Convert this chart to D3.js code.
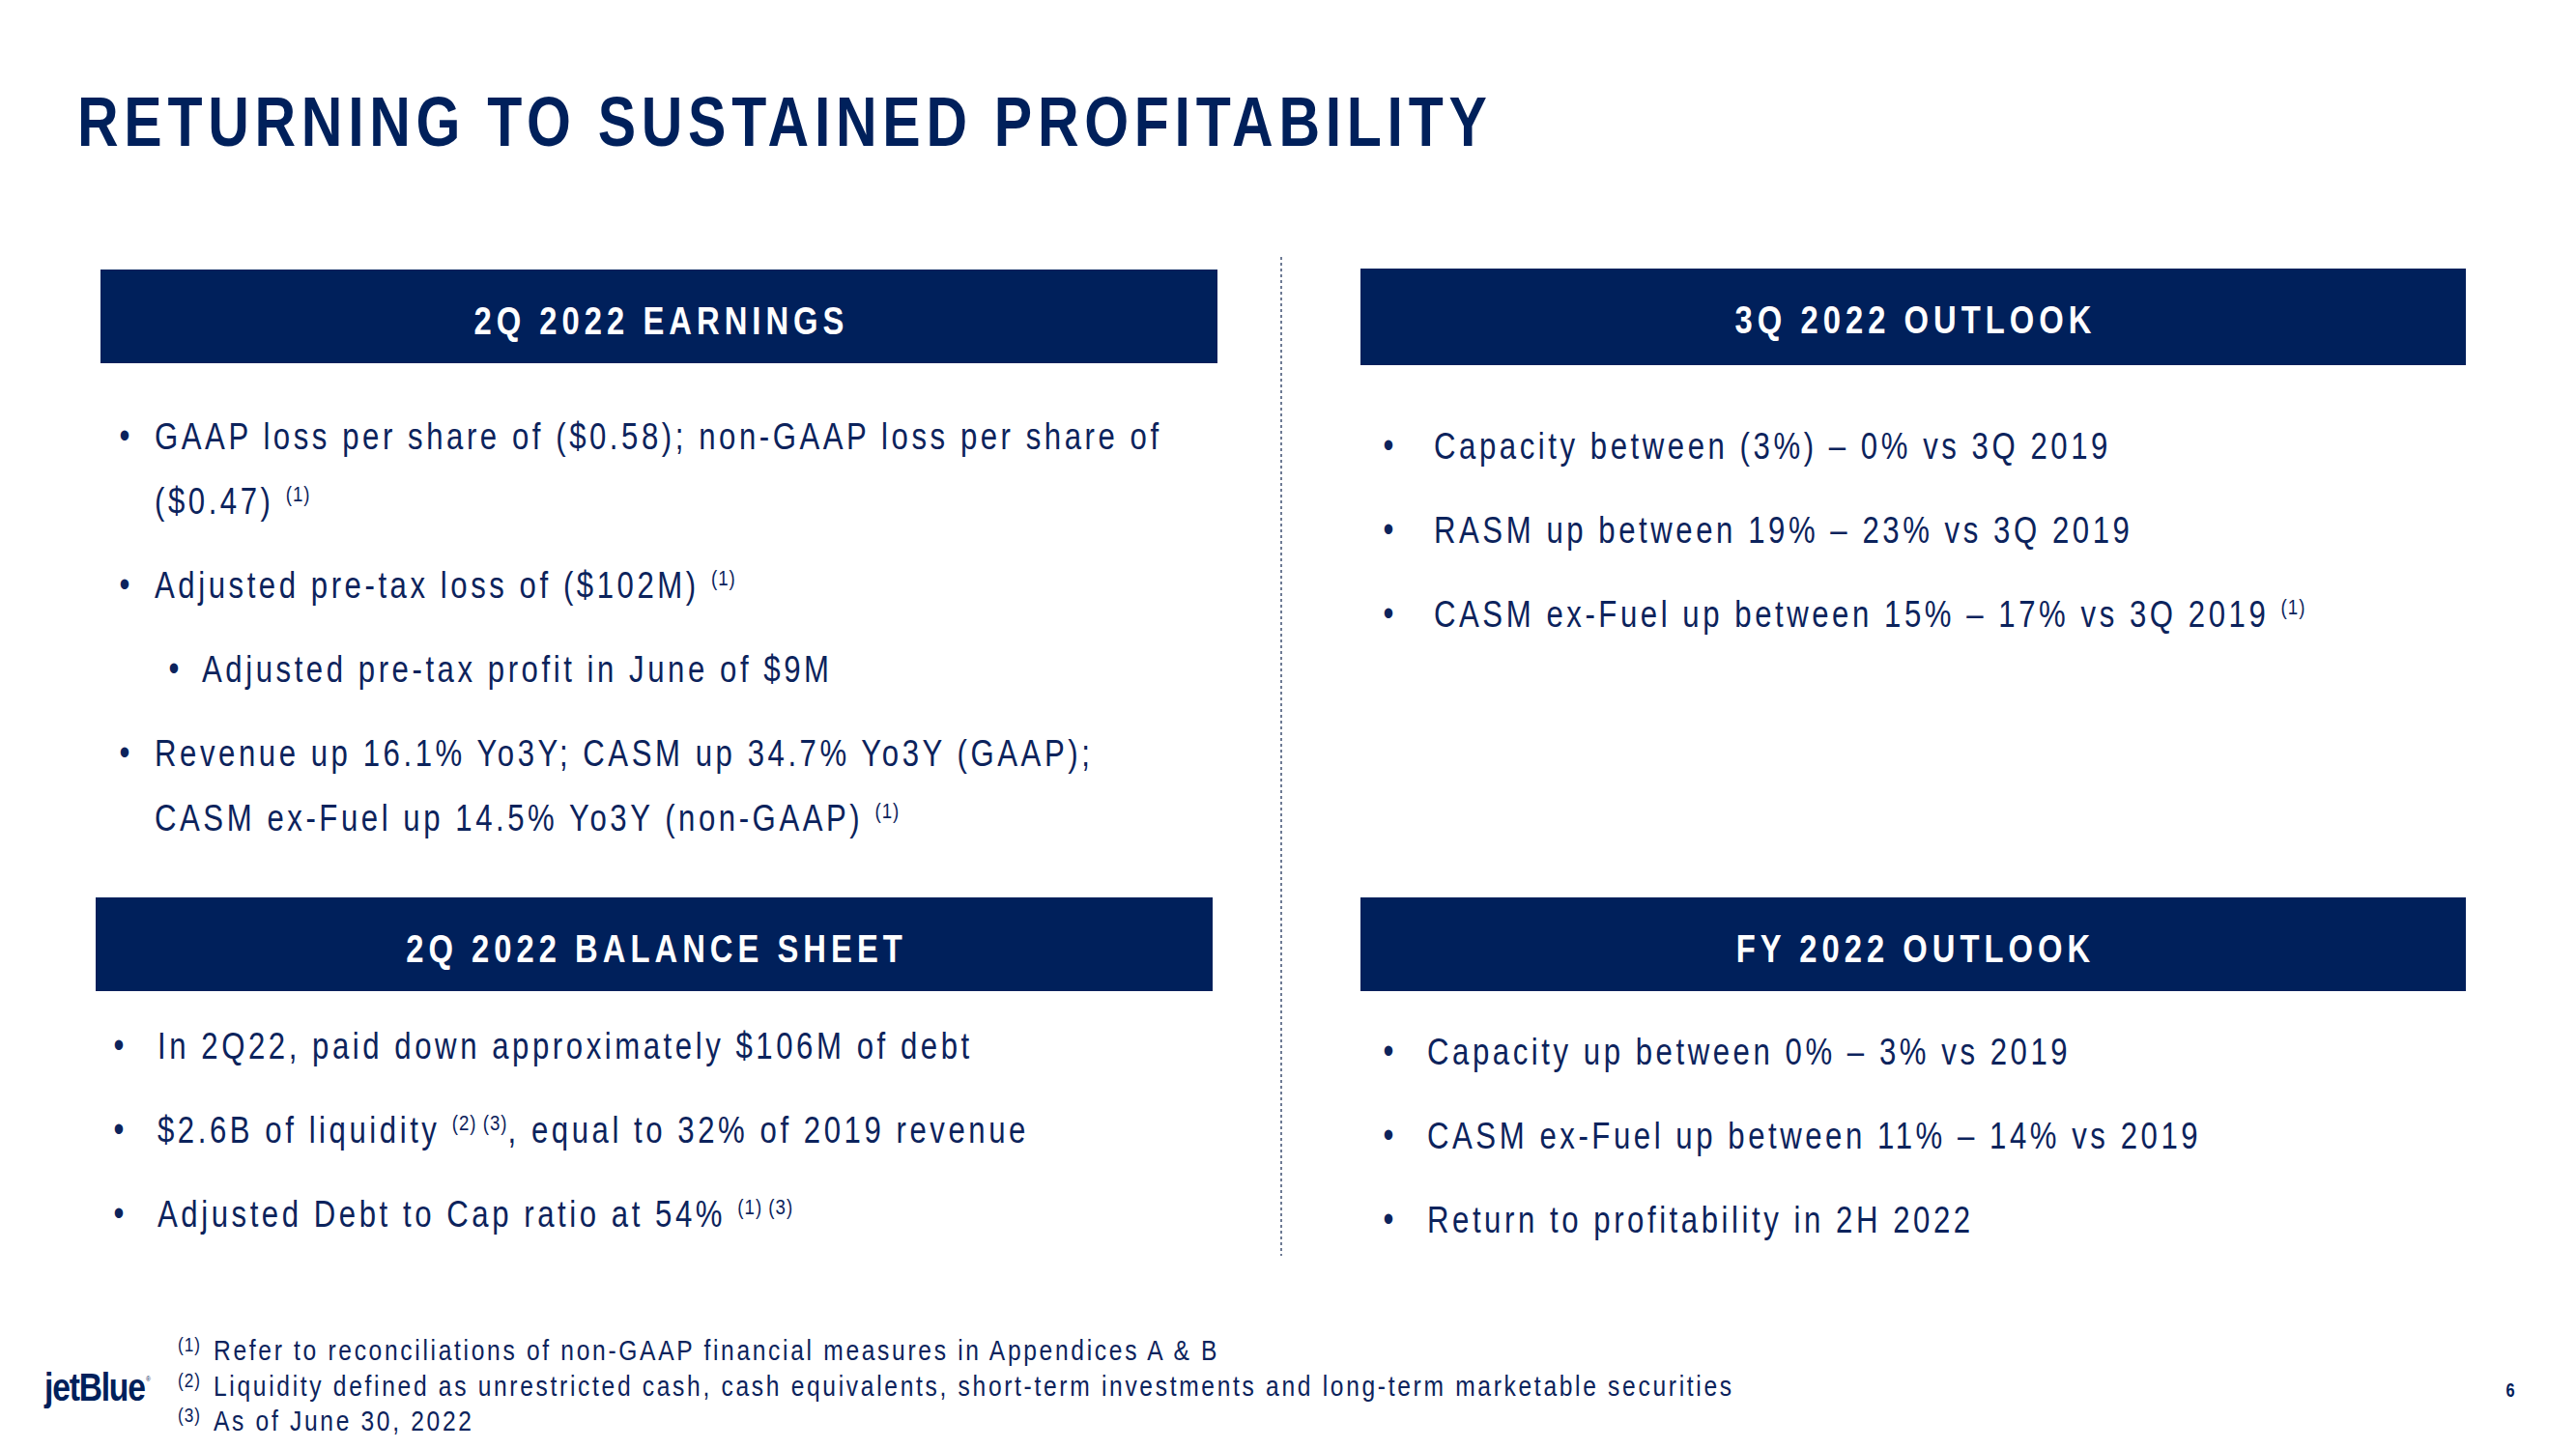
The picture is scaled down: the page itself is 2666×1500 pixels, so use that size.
<!DOCTYPE html>
<html><head><meta charset="utf-8">
<script src="https://cdn.jsdelivr.net/npm/d3@7"></script>
<style>body{margin:0;background:#fff}svg{display:block}text{white-space:pre}</style>
</head><body><svg id="c" width="2666" height="1500"></svg>
<script>
// ---------- content ----------
const slideTitle = "RETURNING TO SUSTAINED PROFITABILITY";
const panelTitles = ["2Q 2022 EARNINGS", "3Q 2022 OUTLOOK", "2Q 2022 BALANCE SHEET", "FY 2022 OUTLOOK"];
// {..} marks superscript footnote references; lvl 2 = sub-bullet; cont = wrapped continuation line
const earningsLines = [
  {lvl: 1, text: "GAAP loss per share of ($0.58); non-GAAP loss per share of"},
  {lvl: 1, cont: true, text: "($0.47) {(1)}"},
  {lvl: 1, text: "Adjusted pre-tax loss of ($102M) {(1)}"},
  {lvl: 2, text: "Adjusted pre-tax profit in June of $9M"},
  {lvl: 1, text: "Revenue up 16.1% Yo3Y; CASM up 34.7% Yo3Y (GAAP);"},
  {lvl: 1, cont: true, text: "CASM ex-Fuel up 14.5% Yo3Y (non-GAAP) {(1)}"}
];
const outlook3QLines = [
  {lvl: 1, text: "Capacity between (3%) – 0% vs 3Q 2019"},
  {lvl: 1, text: "RASM up between 19% – 23% vs 3Q 2019"},
  {lvl: 1, text: "CASM ex-Fuel up between 15% – 17% vs 3Q 2019 {(1)}"}
];
const balanceLines = [
  {lvl: 1, text: "In 2Q22, paid down approximately $106M of debt"},
  {lvl: 1, text: "$2.6B of liquidity {(2) (3)}, equal to 32% of 2019 revenue"},
  {lvl: 1, text: "Adjusted Debt to Cap ratio at 54% {(1) (3)}"}
];
const outlookFYLines = [
  {lvl: 1, text: "Capacity up between 0% – 3% vs 2019"},
  {lvl: 1, text: "CASM ex-Fuel up between 11% – 14% vs 2019"},
  {lvl: 1, text: "Return to profitability in 2H 2022"}
];
const footnoteMarks = ["(1)", "(2)", "(3)"];
const footnoteTexts = [
  "Refer to reconciliations of non-GAAP financial measures in Appendices A & B",
  "Liquidity defined as unrestricted cash, cash equivalents, short-term investments and long-term marketable securities",
  "As of June 30, 2022"
];
const logoText = "jetBlue";
const pageNumber = "6";

// ---------- styling / layout ----------
const NAVY = "#00205B", TEXT = "#0c235c";
function hasFont(f) {
  const c = document.createElement("canvas").getContext("2d");
  const s = "abcdefghijklmnopQRSTUVW0123";
  c.font = "40px monospace"; const a = c.measureText(s).width;
  c.font = `40px "${f}", monospace`; return c.measureText(s).width !== a;
}
const narrow = hasFont("Liberation Sans Narrow");
const FONT = narrow ? "'Liberation Sans Narrow', 'Liberation Sans', Arial, sans-serif" : "'Liberation Sans', Arial, sans-serif";
const SX = narrow ? 1 : 0.82;

const svg = d3.select("#c");
svg.append("rect").attr("width", 2666).attr("height", 1500).attr("fill", "#fff");

function addText(g, x, y, str, o) {
  const t = g.append("text")
    .attr("transform", `translate(${x},${y}) scale(${SX},1)`)
    .attr("font-family", FONT).attr("font-size", o.size)
    .attr("font-weight", o.bold ? 700 : 400)
    .attr("letter-spacing", (o.ls || 0) / SX)
    .attr("fill", o.fill || TEXT)
    .attr("text-anchor", o.anchor || "start");
  const parts = str.split(/(\{[^}]*\})/).filter(p => p.length);
  let raised = false;
  parts.forEach(p => {
    const sup = p.startsWith("{");
    const ts = t.append("tspan").text(sup ? p.slice(1, -1) : p);
    if (sup) {
      ts.attr("font-size", o.size * 0.6).attr("dy", -o.size * 0.33).attr("letter-spacing", 1 / SX);
      raised = true;
    } else if (raised) { ts.attr("dy", o.size * 0.33); raised = false; }
  });
  return t;
}

// title
addText(svg, 80, 151, slideTitle, {size: 72, bold: true, ls: 5.7, fill: NAVY});

// divider
const yDiv = d3.scaleLinear().domain([0, 1]).range([266, 1300]);
svg.append("line").attr("x1", 1326).attr("x2", 1326).attr("y1", yDiv(0)).attr("y2", yDiv(1))
  .attr("stroke", "#4a5a7a").attr("stroke-width", 1.6).attr("stroke-dasharray", "3,3");

const panels = [
  {lines: earningsLines, box: [104, 279, 1156, 97], bx: 129, tx: 160, sub: [180, 209], y0: 465},
  {lines: outlook3QLines, box: [1408, 278, 1144, 100], bx: 1437, tx: 1484, y0: 475},
  {lines: balanceLines, box: [99, 929, 1156, 97], bx: 123, tx: 163, y0: 1096},
  {lines: outlookFYLines, box: [1408, 929, 1144, 97], bx: 1437, tx: 1477, y0: 1102}
];
const STEP_BULLET = 87, STEP_CONT = 67;

panels.forEach((p, i) => {
  const g = svg.append("g");
  const [x, y, w, h] = p.box;
  g.append("rect").attr("x", x).attr("y", y).attr("width", w).attr("height", h).attr("fill", NAVY);
  addText(g, x + w / 2 + 2.5, y + 67, panelTitles[i], {size: 40, bold: true, ls: 5.0, fill: "#fff", anchor: "middle"});
  let yy = p.y0;
  p.lines.forEach((ln, j) => {
    if (j > 0) yy += ln.cont ? STEP_CONT : STEP_BULLET;
    const bx = ln.lvl === 2 ? p.sub[0] : p.bx;
    const tx = ln.lvl === 2 ? p.sub[1] : p.tx;
    if (!ln.cont) addText(g, bx, yy - 1, "•", {size: 38, anchor: "middle"});
    addText(g, tx, yy, ln.text, {size: 38, ls: 3.55});
  });
});

// footnotes
const yFoot = d3.scaleLinear().domain([0, 2]).range([1408, 1481]);
footnoteTexts.forEach((t, i) => {
  addText(svg, 184, yFoot(i) - 9, footnoteMarks[i], {size: 21, ls: 1});
  addText(svg, 221, yFoot(i), t, {size: 30, ls: 2.68});
});

// logo + page number
addText(svg, 46, 1450, logoText, {size: 41, bold: true, ls: -1.2, fill: NAVY});
addText(svg, 151, 1430, "®", {size: 8, fill: NAVY});
addText(svg, 2598, 1446, pageNumber, {size: 20, bold: true, fill: NAVY, anchor: "middle"});
</script>
</body></html>
